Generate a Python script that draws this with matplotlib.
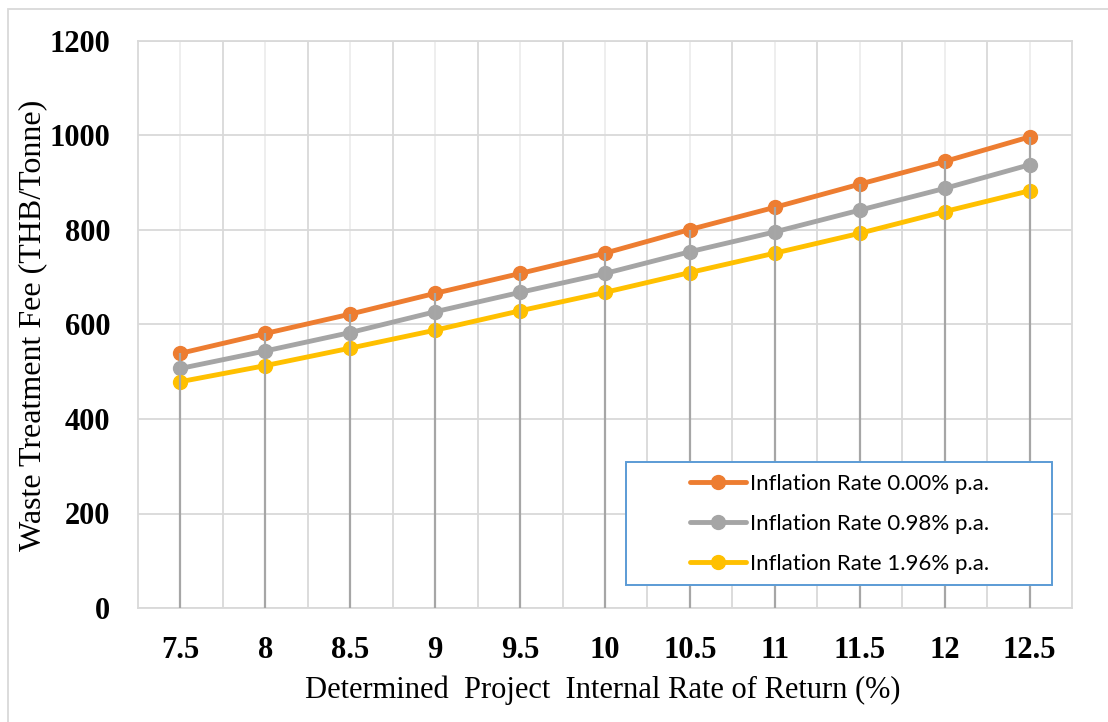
import matplotlib
matplotlib.use("Agg")
import matplotlib.pyplot as plt
from matplotlib.patches import Rectangle
from matplotlib.ticker import MultipleLocator

# Project IRR scenarios (%) and resulting waste treatment fees (THB/Tonne)
irr_labels = ["7.5", "8", "8.5", "9", "9.5", "10", "10.5", "11", "11.5", "12", "12.5"]
fee_infl_000 = [539, 581, 622, 666, 708, 751, 801, 848, 897, 945, 997]
fee_infl_098 = [507, 544, 583, 627, 668, 708, 754, 796, 842, 888, 938]
fee_infl_196 = [479, 513, 550, 588, 629, 668, 710, 751, 793, 839, 883]
series_names = ["Inflation Rate 0.00% p.a.",
                "Inflation Rate 0.98% p.a.",
                "Inflation Rate 1.96% p.a."]
series_colors = ["#ED7D31", "#A5A5A5", "#FFC000"]

W, H = 1108, 722
fig = plt.figure(figsize=(W / 100, H / 100), dpi=100)
ax = fig.add_axes([138 / W, 1 - 608 / H, (1072 - 138) / W, (608 - 41) / H])

x = list(range(len(irr_labels)))
ax.set_xlim(-0.5, len(irr_labels) - 0.5)
ax.set_ylim(0, 1200)

# gridlines: horizontal major, vertical at category boundaries and centres
ax.yaxis.set_major_locator(MultipleLocator(200))
ax.grid(axis="y", color="#D9D9D9", lw=1.3, zorder=0)
for b in [i - 0.5 for i in range(1, len(irr_labels))]:
    ax.axvline(b, color="#D9D9D9", lw=1.3, zorder=0)
for c in x:
    ax.axvline(c, color="#EDEDED", lw=1.3, zorder=0)

for name, vals, col in zip(series_names, [fee_infl_000, fee_infl_098, fee_infl_196], series_colors):
    ax.plot(x, vals, color=col, lw=3.5, marker="o", ms=10, label=name, zorder=3,
            solid_capstyle="round")

# drop lines from the highest series down to the axis
tops = [max(a, b, c) for a, b, c in zip(fee_infl_000, fee_infl_098, fee_infl_196)]
ax.vlines(x, 0, tops, color="#A6A6A6", lw=1.6, zorder=4)

for s in ax.spines.values():
    s.set_color("#D9D9D9")
    s.set_linewidth(1.3)

ax.set_xticks(x)
ax.set_xticklabels(irr_labels)
ax.tick_params(length=0)
ax.tick_params(axis="x", pad=20)
ax.tick_params(axis="y", pad=20)
for lab in ax.get_xticklabels() + ax.get_yticklabels():
    lab.set_fontfamily("Liberation Serif")
    lab.set_fontweight("bold")
    lab.set_fontsize(22)

fig.text(33 / W, 1 - 325 / H, "Waste Treatment Fee (THB/Tonne)", rotation=90,
         ha="center", va="center", family="Liberation Serif", fontsize=23)
fig.text(603 / W, 1 - 690 / H, "Determined  Project  Internal Rate of Return (%)",
         ha="center", va="center", family="Liberation Serif", fontsize=22)

# legend box, drawn as its own patch inside the axes layer
ax.add_patch(Rectangle((626 / W, 1 - 585 / H), (1052 - 626) / W, (585 - 462) / H,
                       transform=fig.transFigure, facecolor="white",
                       edgecolor="#5B9BD5", lw=1.4, zorder=5, clip_on=False))
leg = ax.legend(loc="upper left", bbox_to_anchor=(690 / W, 1 - 474 / H),
                bbox_transform=fig.transFigure, prop={"family": "Lato", "size": 16},
                frameon=False, borderpad=0, labelspacing=0.9, handlelength=2.5,
                handletextpad=0.22, borderaxespad=0)
leg.set_zorder(7)

# outer chart frame
fig.patches.append(Rectangle((8 / W, -0.1), 1.2, 1 - 9 / H + 0.1,
                             transform=fig.transFigure, fill=False,
                             edgecolor="#D9D9D9", lw=1.3))

fig.savefig("out.png", dpi=100)
